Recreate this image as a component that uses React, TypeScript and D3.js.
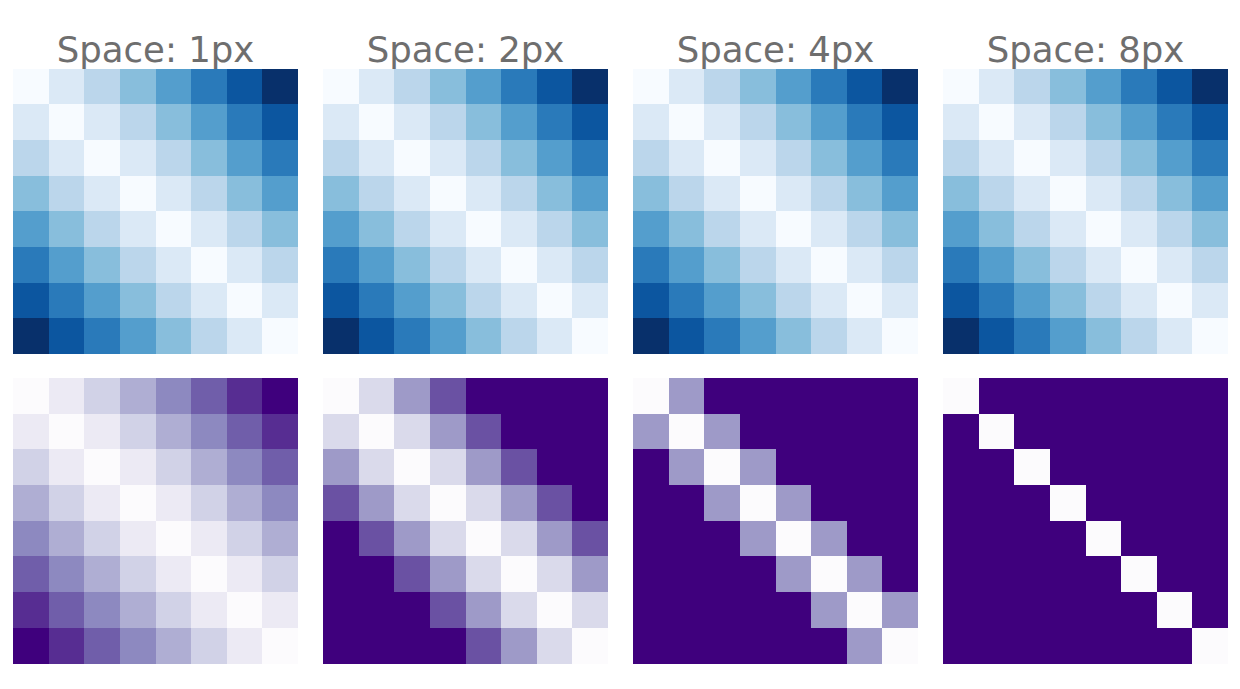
import React from "react";
import * as d3 from "d3";

const spaces = [1, 2, 4, 8];
const gridSize = 8;
const rowIdx = d3.range(gridSize);
const blues9 = ["#f7fbff", "#deebf7", "#c6dbef", "#9ecae1", "#6baed6", "#4292c6", "#2171b5", "#08519c", "#08306b"];
const purples9 = ["#fcfbfd", "#efedf5", "#dadaeb", "#bcbddc", "#9e9ac8", "#807dba", "#6a51a3", "#54278f", "#3f007d"];
const purpleCap = 8;

const W = 1240;
const H = 689;
const panelX0 = 13;
const panelStep = 310;
const panelW = 285;
const topY = 68.5;
const botY = 378;
const panelH = 285.5;

function ramp(colors: string[]) {
  return d3
    .scaleLinear<string>()
    .domain(colors.map((_, i) => i / (colors.length - 1)))
    .range(colors)
    .interpolate(d3.interpolateRgb)
    .clamp(true);
}

const bluesScale = ramp(blues9);
const purplesScale = ramp(purples9);

function Panel({ x, y, values, cmap }: { x: number; y: number; values: number[][]; cmap: (t: number) => string }) {
  const xs = d3.scaleBand<number>().domain(rowIdx).range([x, x + panelW]);
  const ys = d3.scaleBand<number>().domain(rowIdx).range([y, y + panelH]);
  const flat = values.flat();
  const [lo, hi] = d3.extent(flat) as [number, number];
  const norm = d3.scaleLinear().domain([lo, hi]).range([0, 1]);
  return (
    <g shapeRendering="crispEdges">
      {values.map((row, i) =>
        row.map((v, j) => (
          <rect
            key={`${i}-${j}`}
            x={xs(j)}
            y={ys(i)}
            width={xs.bandwidth() + (j < gridSize - 1 ? 0.6 : 0)}
            height={ys.bandwidth() + (i < gridSize - 1 ? 0.6 : 0)}
            fill={cmap(norm(v))}
          />
        ))
      )}
    </g>
  );
}

export default function App() {
  const topVals = rowIdx.map((i) => rowIdx.map((j) => Math.abs(i - j)));
  return (
    <svg width={W} height={H} style={{ position: "absolute", left: 0, top: 0, background: "#fff" }}>
      {spaces.map((sp, k) => {
        const x = panelX0 + k * panelStep;
        const botVals = rowIdx.map((i) => rowIdx.map((j) => Math.min(Math.abs(i - j) * sp, purpleCap)));
        return (
          <g key={sp}>
            <text
              x={x + panelW / 2}
              y={62}
              textAnchor="middle"
              fontFamily="DejaVu Sans"
              fontSize={35.5}
              fill="#6e6e6e"
            >
              {`Space: ${sp}px`}
            </text>
            <Panel x={x} y={topY} values={topVals} cmap={bluesScale} />
            <Panel x={x} y={botY} values={botVals} cmap={purplesScale} />
          </g>
        );
      })}
    </svg>
  );
}
